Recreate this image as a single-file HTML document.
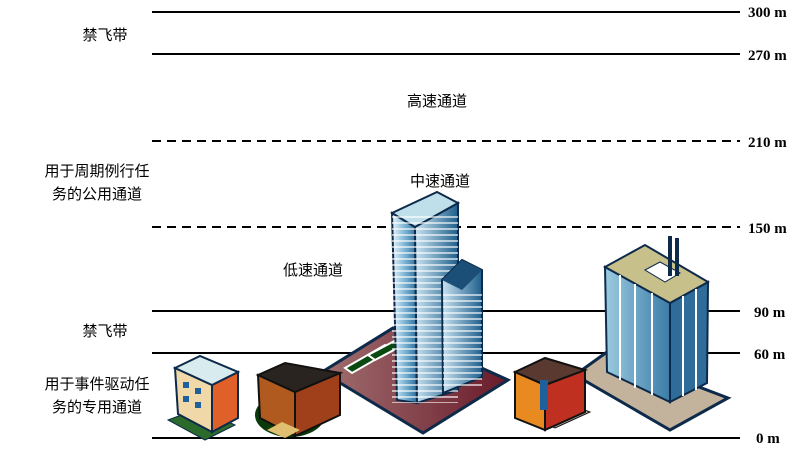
<!DOCTYPE html>
<html><head><meta charset="utf-8"><style>
html,body{margin:0;padding:0;background:#fff;}
svg{display:block;}
text{font-family:"Liberation Sans","Noto Sans CJK SC",sans-serif;font-size:15px;fill:#000;}
.m{font-family:"Liberation Serif","Noto Serif CJK SC",serif;font-size:15px;font-weight:bold;}
</style></head><body>
<svg width="800" height="450" viewBox="0 0 800 450" xmlns="http://www.w3.org/2000/svg">
<defs>
<linearGradient id="tw" x1="0" x2="1"><stop offset="0" stop-color="#e8f4fa"/><stop offset="0.5" stop-color="#7fb6d6"/><stop offset="1" stop-color="#2a6c9a"/></linearGradient>
<linearGradient id="tw2" x1="0" x2="1"><stop offset="0" stop-color="#c9e4f2"/><stop offset="1" stop-color="#1f5f8c"/></linearGradient>
<linearGradient id="base" x1="0" x2="1"><stop offset="0" stop-color="#a07070"/><stop offset="1" stop-color="#6a1a2a"/></linearGradient>
<pattern id="str" width="10" height="6" patternUnits="userSpaceOnUse"><rect width="10" height="6" fill="none"/><rect y="0" width="10" height="2" fill="#ffffff" opacity="0.6"/></pattern>
<linearGradient id="gl" x1="0" x2="1"><stop offset="0" stop-color="#9ccbe0"/><stop offset="1" stop-color="#3b7ca8"/></linearGradient>
</defs>
<g stroke="#000" stroke-width="2">
<line x1="152" y1="12" x2="740" y2="12"/>
<line x1="152" y1="54" x2="740" y2="54"/>
<line x1="152" y1="141" x2="740" y2="141" stroke-dasharray="9,6"/>
<line x1="152" y1="227" x2="740" y2="227" stroke-dasharray="9,6"/>
<line x1="152" y1="311" x2="740" y2="311"/>
<line x1="152" y1="353" x2="740" y2="353"/>
<line x1="152" y1="438" x2="740" y2="438"/>
</g>
<text class="m" x="748" y="17">300 m</text>
<text class="m" x="748" y="60">270 m</text>
<text class="m" x="748" y="147">210 m</text>
<text class="m" x="748" y="233">150 m</text>
<text class="m" x="754" y="317">90 m</text>
<text class="m" x="754" y="359">60 m</text>
<text class="m" x="756" y="443">0 m</text>
<text x="105" y="40" text-anchor="middle">禁飞带</text>
<text x="437" y="106" text-anchor="middle">高速通道</text>
<text x="97" y="176" text-anchor="middle">用于周期例行任</text>
<text x="97" y="199" text-anchor="middle">务的公用通道</text>
<text x="440" y="186" text-anchor="middle">中速通道</text>
<text x="313" y="275" text-anchor="middle">低速通道</text>
<text x="105" y="336" text-anchor="middle">禁飞带</text>
<text x="97" y="389" text-anchor="middle">用于事件驱动任</text>
<text x="97" y="412" text-anchor="middle">务的专用通道</text>
<!-- central tower -->
<polygon points="322,372 393,328 508,380 423,433" fill="url(#base)" stroke="#0d2a4a" stroke-width="3"/>
<polygon points="345,368 385,345 392,350 352,373" fill="#0a4a10" stroke="#fff" stroke-width="2"/>
<polygon points="368,355 400,338 407,343 375,360" fill="#0a4a10" stroke="#fff" stroke-width="2"/>
<polygon points="392,213 415,227 417,403 397,400" fill="url(#tw)" stroke="#0d2a4a" stroke-width="2"/>
<polygon points="415,227 458,203 458,390 417,403" fill="url(#tw2)" stroke="#0d2a4a" stroke-width="2"/>
<polygon points="392,213 437,192 458,203 415,227" fill="#bfe0ea" stroke="#0d2a4a" stroke-width="2"/>
<rect x="392" y="215" width="66" height="188" fill="url(#str)"/>
<polygon points="442,280 462,260 482,270 482,377 443,393" fill="url(#tw2)" stroke="#0d2a4a" stroke-width="2"/>
<polygon points="442,280 462,260 482,270 462,290" fill="#1c4f78"/>
<rect x="443" y="290" width="39" height="100" fill="url(#str)"/>
<!-- right building -->
<polygon points="575,375 607,352 728,398 670,430" fill="#c4b39c" stroke="#0d2a4a" stroke-width="3"/>
<polygon points="605,267 670,303 670,402 607,372" fill="url(#gl)" stroke="#0d2a4a" stroke-width="2"/>
<polygon points="670,303 708,282 707,383 670,402" fill="#2f6c9a" stroke="#0d2a4a" stroke-width="2"/>
<polygon points="605,267 645,245 708,282 670,303" fill="#c8c08a" stroke="#0d2a4a" stroke-width="2"/>
<g stroke="#fff" stroke-width="2">
<line x1="620" y1="275" x2="620" y2="380"/><line x1="635" y1="284" x2="635" y2="388"/><line x1="652" y1="293" x2="652" y2="395"/>
<line x1="683" y1="296" x2="683" y2="396"/><line x1="696" y1="289" x2="696" y2="390"/>
</g>
<polygon points="645,270 660,262 680,273 665,282" fill="#fff" stroke="#0d2a4a"/>
<rect x="668" y="236" width="4" height="40" fill="#0d2a4a"/><rect x="675" y="238" width="4" height="38" fill="#0d2a4a"/>
<!-- small buildings -->
<polygon points="168,420 200,408 235,425 205,440" fill="#2c6a2c" stroke="#0d2a4a"/>
<polygon points="175,368 212,385 212,432 178,414" fill="#f0d8a8" stroke="#0d2a4a" stroke-width="2"/>
<polygon points="212,385 238,372 238,418 212,432" fill="#e0602a" stroke="#0d2a4a" stroke-width="2"/>
<polygon points="175,368 200,356 238,372 212,385" fill="#d8ecf0" stroke="#0d2a4a" stroke-width="2"/>
<g fill="#1f5f9c"><rect x="183" y="382" width="6" height="6"/><rect x="195" y="388" width="6" height="6"/><rect x="183" y="396" width="6" height="6"/><rect x="195" y="402" width="6" height="6"/></g>
<ellipse cx="290" cy="415" rx="35" ry="22" fill="#0a3a0a"/>
<polygon points="258,375 295,392 295,436 260,418" fill="#b05a20" stroke="#111" stroke-width="2"/>
<polygon points="295,392 340,373 340,415 295,436" fill="#a0401a" stroke="#111" stroke-width="2"/>
<polygon points="258,375 285,363 340,373 295,392" fill="#2a2420" stroke="#111" stroke-width="2"/>
<polygon points="267,430 282,422 300,430 285,438" fill="#e0c070"/>
<polygon points="520,412 555,398 590,412 555,428" fill="#bbb0a0" stroke="#111"/>
<polygon points="515,372 545,385 545,430 515,418" fill="#e88a20" stroke="#111" stroke-width="2"/>
<polygon points="545,385 585,370 585,412 545,430" fill="#c03020" stroke="#111" stroke-width="2"/>
<polygon points="515,372 545,358 585,370 545,385" fill="#5a3a30" stroke="#111" stroke-width="2"/>
<rect x="540" y="380" width="8" height="30" fill="#1f5f9c"/>
</svg>
</body></html>
